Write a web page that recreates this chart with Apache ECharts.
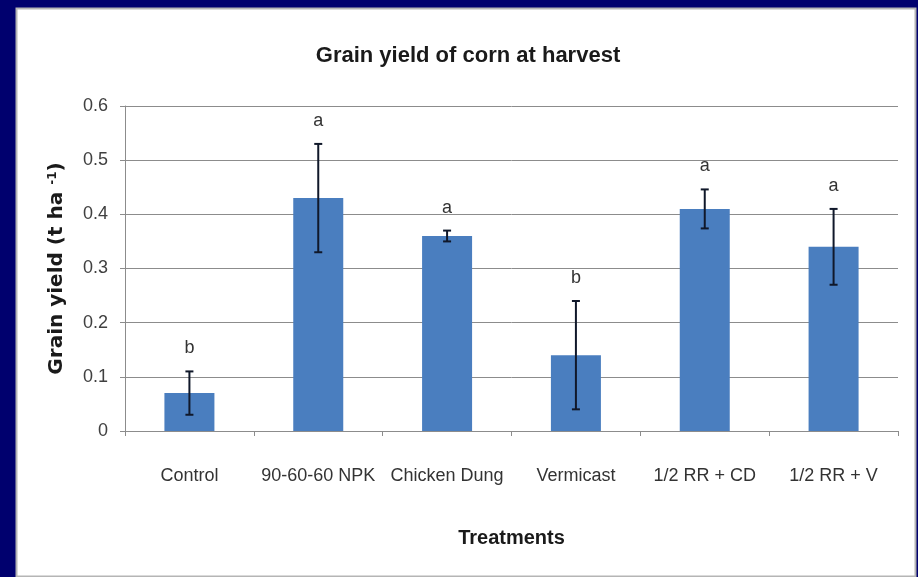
<!DOCTYPE html>
<html>
<head>
<meta charset="utf-8">
<script src="https://cdn.jsdelivr.net/npm/echarts@6/dist/echarts.min.js"></script>
<style>
html,body{margin:0;padding:0;background:#00006e;}
#chart{width:918px;height:577px;}
</style>
</head>
<body>
<div id="chart"></div>
<script>
var categories = ['Control', '90-60-60 NPK', 'Chicken Dung', 'Vermicast', '1/2 RR + CD', '1/2 RR + V'];
var means = [0.07, 0.43, 0.36, 0.14, 0.41, 0.34];
var errors = [0.04, 0.10, 0.01, 0.10, 0.036, 0.07];
var letters = ['b', 'a', 'a', 'b', 'a', 'a'];
var yTicks = [0, 0.1, 0.2, 0.3, 0.4, 0.5, 0.6];

var errData = means.map(function (m, i) { return [i, m - errors[i], m + errors[i]]; });
var letterData = means.map(function (m, i) { return [i, m + errors[i], letters[i]]; });

var chart = echarts.init(document.getElementById('chart'), null, {renderer: 'canvas'});
chart.setOption({
  backgroundColor: '#00006e',
  animation: false,
  graphic: [{
    type: 'rect', z: -10,
    shape: {x: 16.5, y: 8.5, width: 899, height: 568},
    style: {fill: '#ffffff', stroke: '#b5b5b5', lineWidth: 2}
  }],
  title: {
    text: 'Grain yield of corn at harvest',
    left: 463, top: 40, textAlign: 'center',
    textStyle: {fontFamily: 'Liberation Sans', fontWeight: 'bold', fontSize: 22, color: '#1a1a1a'}
  },
  grid: {left: 125, right: 20, top: 106, bottom: 146},
  xAxis: {
    type: 'category',
    data: categories,
    name: 'Treatments',
    nameLocation: 'middle',
    nameGap: 97,
    nameTextStyle: {fontFamily: 'Liberation Sans', fontWeight: 'bold', fontSize: 20, color: '#1a1a1a'},
    axisLine: {lineStyle: {color: '#8c8c8c', width: 1}},
    axisTick: {show: true, length: 5, lineStyle: {color: '#8c8c8c'}},
    axisLabel: {fontFamily: 'Liberation Sans', fontSize: 18, color: '#333333', margin: 36, interval: 0}
  },
  yAxis: {
    type: 'value',
    min: 0, max: 0.6, interval: 0.1,
    name: '{a|Grain yield (t ha }{s|-1}{a|)}',
    nameLocation: 'middle',
    nameGap: 58,
    nameRotate: 90,
    nameTextStyle: {
      rich: {
        a: {fontFamily: 'DejaVu Sans', fontWeight: 'bold', fontSize: 20, color: '#1a1a1a'},
        s: {fontFamily: 'DejaVu Sans', fontWeight: 'bold', fontSize: 12, color: '#1a1a1a', verticalAlign: 'top', padding: [0, 0, 8, 0]}
      }
    },
    axisLine: {show: true, lineStyle: {color: '#8c8c8c', width: 1}},
    axisTick: {show: true, length: 5, lineStyle: {color: '#8c8c8c'}},
    splitLine: {lineStyle: {color: '#8c8c8c', width: 1}},
    axisLabel: {
      fontFamily: 'Liberation Sans', fontSize: 18, color: '#404040', margin: 17,
      formatter: function (v) {
        for (var k = 0; k < yTicks.length; k++) { if (Math.abs(yTicks[k] - v) < 1e-9) return String(yTicks[k]); }
        return '';
      }
    }
  },
  series: [
    {
      type: 'bar',
      data: means,
      barWidth: 50,
      itemStyle: {color: '#4a7ebf'},
      z: 2
    },
    {
      type: 'custom',
      data: errData,
      z: 5,
      renderItem: function (params, api) {
        var x = api.value(0);
        var lo = api.coord([x, api.value(1)]);
        var hi = api.coord([x, api.value(2)]);
        var hw = 4;
        var st = {stroke: '#10182a', lineWidth: 2};
        return {
          type: 'group',
          children: [
            {type: 'line', shape: {x1: hi[0], y1: hi[1], x2: lo[0], y2: lo[1]}, style: st},
            {type: 'line', shape: {x1: hi[0] - hw, y1: hi[1], x2: hi[0] + hw, y2: hi[1]}, style: st},
            {type: 'line', shape: {x1: lo[0] - hw, y1: lo[1], x2: lo[0] + hw, y2: lo[1]}, style: st}
          ]
        };
      }
    },
    {
      type: 'custom',
      data: letterData,
      z: 6,
      renderItem: function (params, api) {
        var p = api.coord([api.value(0), api.value(1)]);
        return {
          type: 'text',
          style: {
            text: letters[params.dataIndex],
            x: p[0], y: p[1] - 14,
            textAlign: 'center', textVerticalAlign: 'bottom',
            fontFamily: 'Liberation Sans', fontSize: 18, fill: '#333333'
          }
        };
      }
    }
  ]
});
</script>
</body>
</html>
